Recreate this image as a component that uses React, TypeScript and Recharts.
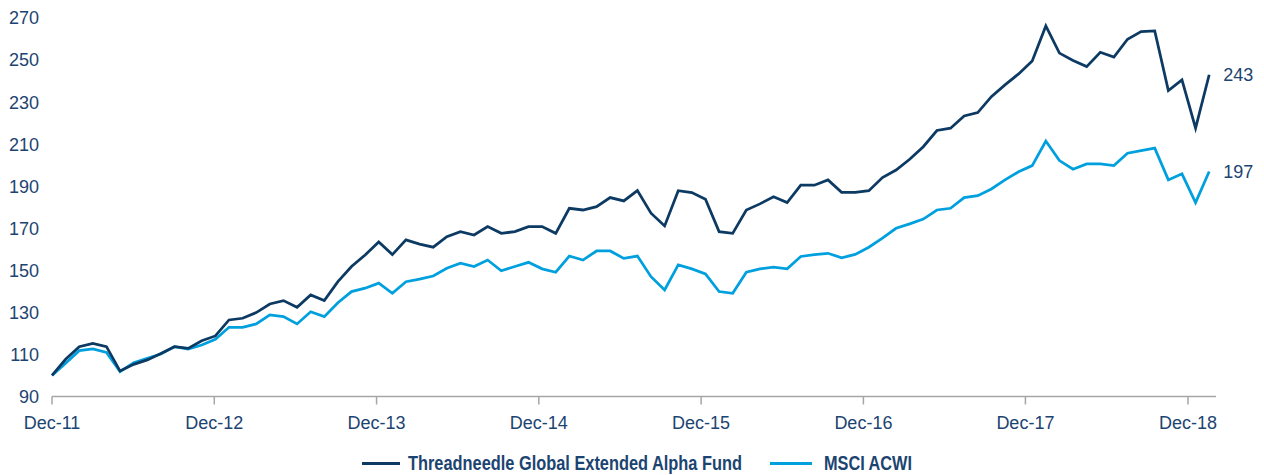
import React from 'react';
import { LineChart, Line, XAxis, YAxis, Legend } from 'recharts';

// Monthly index values, Dec-11 .. Jan-19 (rebased to 100)
const fundValues: number[] = [
  100, 107.7, 113.7, 115.3, 113.7, 102.1, 105.3, 107.4, 110.5, 113.7, 112.9, 116.5,
  118.8, 126.4, 127.2, 129.9, 134.0, 135.6, 132.4, 138.3, 135.6, 144.6, 151.8, 157.3,
  163.5, 157.5, 164.5, 162.5, 161.0, 166.0, 168.4, 166.8, 170.8, 167.6, 168.4, 170.8,
  170.8, 167.6, 179.5, 178.7, 180.3, 184.6, 183.0, 187.9, 177.2, 171.1, 187.9, 187.0,
  183.8, 168.4, 167.6, 178.7, 181.6, 185.0, 182.2, 190.5, 190.5, 193.0, 187.1, 187.1,
  187.9, 194.1, 197.7, 202.8, 208.8, 216.5, 217.6, 223.4, 225.0, 232.6, 238.2, 243.4,
  249.6, 266.2, 253.3, 249.8, 246.9, 253.7, 251.4, 259.9, 263.5, 263.9, 235.5, 240.6,
  217.6, 243,
];

const msciValues: number[] = [
  100, 105.8, 111.8, 112.6, 111.0, 101.8, 106.1, 108.2, 110.2, 113.7, 112.6, 114.5,
  117.2, 122.9, 122.9, 124.5, 128.8, 128.0, 124.5, 130.3, 128.0, 134.6, 139.9, 141.5,
  143.9, 139.1, 144.6, 145.8, 147.3, 151.0, 153.4, 151.8, 154.9, 149.8, 151.8, 153.8,
  150.7, 149.1, 156.8, 154.9, 159.2, 159.2, 155.7, 156.8, 147.0, 140.7, 152.6, 150.7,
  148.3, 139.9, 139.1, 149.1, 150.7, 151.5, 150.7, 156.6, 157.5, 158.1, 156.0, 157.6,
  161.0, 165.3, 170.0, 172.1, 174.4, 178.7, 179.5, 184.6, 185.5, 188.7, 193.0, 196.9,
  199.8, 211.5, 202.2, 198.1, 200.6, 200.6, 199.8, 205.7, 206.9, 208.1, 193.0, 195.9,
  182.2, 197,
];

const xTickValues: number[] = [0, 11.92, 23.84, 35.76, 47.68, 59.6, 71.5, 83.44];
const xTickLabels: string[] = ['Dec-11', 'Dec-12', 'Dec-13', 'Dec-14', 'Dec-15', 'Dec-16', 'Dec-17', 'Dec-18'];
const yTickValues: number[] = [90, 110, 130, 150, 170, 190, 210, 230, 250, 270];

const seriesNames = ['Threadneedle Global Extended Alpha Fund', 'MSCI ACWI'];

const FUND_COLOR = '#0c3a63';
const MSCI_COLOR = '#00a0df';
const TEXT_COLOR = '#1c4471';
const AXIS_COLOR = '#a6a6a6';
const FONT = "'Liberation Sans', Arial, sans-serif";
const LEGEND_FONT = "'Liberation Sans Narrow', 'Liberation Sans', Arial, sans-serif";
const LEGEND_SCALE = 0.75;

const data = fundValues.map((v, i) => ({ x: i, fund: v, msci: msciValues[i] }));
const lastIndex = data.length - 1;

const makeEndLabel = () => (props: any) => {
  const { x, y, index, value } = props;
  if (index !== lastIndex) return null;
  return (
    <text x={x + 14} y={y} dy="0.36em" fill={TEXT_COLOR} fontSize={18} fontFamily={FONT} textAnchor="start">
      {Math.round(value)}
    </text>
  );
};

const LegendText = ({ x, width, label }: { x: number; width: number; label: string }) => (
  <g transform={`translate(${x} 22) scale(${LEGEND_SCALE} 1)`}>
    <text x={0} y={0} textLength={width / LEGEND_SCALE} lengthAdjust="spacingAndGlyphs" fill={TEXT_COLOR}
      fontSize={19.5} fontWeight="bold" fontFamily={LEGEND_FONT}>{label}</text>
  </g>
);

const renderLegend = () => (
  <svg width={1264} height={30} style={{ display: 'block' }}>
    <line x1={362} x2={400} y1={15.5} y2={15.5} stroke={FUND_COLOR} strokeWidth={3} />
    <LegendText x={408} width={334} label={seriesNames[0]} />
    <line x1={770} x2={812} y1={15.5} y2={15.5} stroke={MSCI_COLOR} strokeWidth={3} />
    <LegendText x={824} width={88} label={seriesNames[1]} />
  </svg>
);

export default function App() {
  return (
    <div style={{ position: 'absolute', left: 0, top: 0, width: 1264, height: 475, background: '#fff' }}>
      <LineChart width={1264} height={475} data={data} margin={{ top: 18, right: 48, bottom: 8.5, left: 0 }}>
        <XAxis
          dataKey="x"
          type="number"
          domain={[0, 85.5]}
          ticks={xTickValues}
          interval={0}
          tickFormatter={(v: number) => xTickLabels[xTickValues.indexOf(v)] ?? ''}
          axisLine={{ stroke: AXIS_COLOR, strokeWidth: 1.5 }}
          tickLine={{ stroke: AXIS_COLOR, strokeWidth: 1.5 }}
          tickSize={8}
          tickMargin={12}
          height={40}
          tick={{ fill: TEXT_COLOR, fontSize: 18, fontFamily: FONT }}
        />
        <YAxis
          type="number"
          domain={[90, 270]}
          ticks={yTickValues}
          interval={0}
          axisLine={false}
          tickLine={false}
          tickSize={0}
          tickMargin={13}
          width={52}
          tick={{ fill: TEXT_COLOR, fontSize: 18, fontFamily: FONT }}
        />
        <Legend verticalAlign="bottom" height={30} content={renderLegend}
          wrapperStyle={{ top: 448, left: 0, width: 1264, height: 30 }} />
        <Line type="linear" dataKey="msci" name={seriesNames[1]} stroke={MSCI_COLOR} strokeWidth={2.75}
          dot={false} activeDot={false} isAnimationActive={false} label={makeEndLabel()} />
        <Line type="linear" dataKey="fund" name={seriesNames[0]} stroke={FUND_COLOR} strokeWidth={2.75}
          dot={false} activeDot={false} isAnimationActive={false} label={makeEndLabel()} />
      </LineChart>
    </div>
  );
}
